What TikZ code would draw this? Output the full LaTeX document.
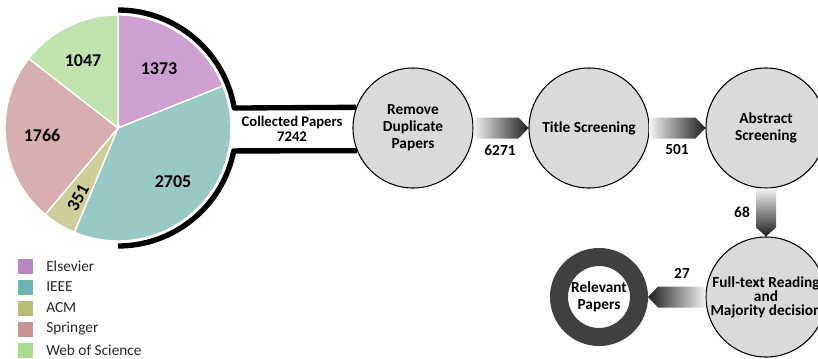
\documentclass[tikz,border=0pt]{standalone}
\usepackage{fontspec}
\setmainfont{Carlito}
\usetikzlibrary{calc}

\definecolor{elsPie}{HTML}{CDA0D1}
\definecolor{ieeePie}{HTML}{99C9C7}
\definecolor{acmPie}{HTML}{CECE9A}
\definecolor{sprPie}{HTML}{D8AEAE}
\definecolor{wosPie}{HTML}{C1E4AF}
\definecolor{elsKey}{HTML}{B985C3}
\definecolor{ieeeKey}{HTML}{6CB4B0}
\definecolor{acmKey}{HTML}{BDBC74}
\definecolor{sprKey}{HTML}{C99494}
\definecolor{wosKey}{HTML}{A8DC8C}
\definecolor{stageGray}{HTML}{DADADA}
\definecolor{ringGray}{HTML}{404040}
\definecolor{keyText}{HTML}{262626}

\tikzset{
  stage/.style={circle, draw=black, line width=0.8pt, fill=stageGray, minimum size=90pt,
    inner sep=0pt, align=center, font=\fontsize{11.5}{12.75}\selectfont\bfseries},
  count/.style={font=\fontsize{11.5}{13}\selectfont\bfseries},
  pienum/.style={font=\fontsize{13.5}{15}\selectfont\bfseries},
  slice/.style={draw=white, line width=1pt},
  keybox/.style={minimum size=11.25pt, inner sep=0pt},
  keytext/.style={anchor=west, inner sep=0pt, text=keyText, font=\fontsize{11.5}{13}\selectfont},
  flowright/.style={left color=black!5, right color=black!88},
  flowleft/.style={left color=black!88, right color=black!5},
  flowdown/.style={top color=black!5, bottom color=black!88}
}

\begin{document}
\begin{tikzpicture}[x=0.75pt,y=0.75pt]
\useasboundingbox (0,0) rectangle (818,-358);
\clip (0,0) rectangle (818,-358);

% pie of collected papers
\coordinate (pie) at (118,-128);
\filldraw[slice, fill=elsPie] (pie) -- ++(90:113) arc[start angle=90, end angle=21.8, radius=113] -- cycle;
\filldraw[slice, fill=ieeePie] (pie) -- ++(21.8:113) arc[start angle=21.8, end angle=-112.7, radius=113] -- cycle;
\filldraw[slice, fill=acmPie] (pie) -- ++(-112.7:113) arc[start angle=-112.7, end angle=-130.1, radius=113] -- cycle;
\filldraw[slice, fill=sprPie] (pie) -- ++(-130.1:113) arc[start angle=-130.1, end angle=-217.9, radius=113] -- cycle;
\filldraw[slice, fill=wosPie] (pie) -- ++(142.1:113) arc[start angle=142.1, end angle=90, radius=113] -- cycle;
\node[pienum] (nEls) at (159,-69) {1373};
\node[pienum] (nIeee) at (173,-182) {2705};
\node[pienum, rotate=62, inner sep=0pt] (nAcm) at (78,-198) {351};
\node[pienum] (nSpr) at (42,-135) {1766};
\node[pienum] (nWos) at (83,-61) {1047};

% stages
\node[stage] (rem) at (413,-128) {Remove\\Duplicate\\Papers};
\node[stage] (tit) at (589,-128) {Title Screening};
\node[stage] (abs) at (766,-128) {Abstract\\Screening};
\node[stage, font=\fontsize{11.5}{10.5}\selectfont\bfseries] (ful) at (766,-297) {Full-text Reading\\and\\Majority decision};
\node[circle, draw=ringGray, line width=13.5pt, fill=white, minimum size=60pt, inner sep=0pt,
  outer sep=6.75pt, align=center, font=\fontsize{11.5}{12.75}\selectfont\bfseries] (rel) at (599,-297) {Relevant\\Papers};

% bracket from pie to first stage
\draw[line width=4pt, line join=round] ($(pie)+(90:118)$) arc[start angle=90, end angle=9.75, radius=118] -- (rem.160.5);
\draw[line width=4pt, line join=round] ($(pie)+(-90:118)$) arc[start angle=-90, end angle=-11.2, radius=118] -- (rem.202.5);
\node[align=center, font=\fontsize{11}{11.25}\selectfont\bfseries] (col) at (292,-129) {Collected Papers\\7242};

% flow arrows
\shade[flowright] ($(rem.east)+(0,10.5)$) -- ($(tit.west)+(-10,10.5)$) -- (tit.west)
  -- ($(tit.west)+(-10,-10.5)$) -- ($(rem.east)+(0,-10.5)$) -- cycle;
\shade[flowright] ($(tit.east)+(0,10.5)$) -- ($(abs.west)+(-10,10.5)$) -- (abs.west)
  -- ($(abs.west)+(-10,-10.5)$) -- ($(tit.east)+(0,-10.5)$) -- cycle;
\shade[flowdown] ($(abs.south)+(-10,0)$) -- ($(ful.north)+(-10,9)$) -- (ful.north)
  -- ($(ful.north)+(10,9)$) -- ($(abs.south)+(10,0)$) -- cycle;
\shade[flowleft] ($(ful.west)+(0,10.5)$) -- ($(rel.east)+(10,10.5)$) -- (rel.east)
  -- ($(rel.east)+(10,-10.5)$) -- ($(ful.west)+(0,-10.5)$) -- cycle;
\node[count] (c6271) at (500,-150) {6271};
\node[count] (c501) at (677,-150) {501};
\node[count] (c68) at (742,-212) {68};
\node[count] (c27) at (682,-273) {27};

% legend
\node[keybox, fill=elsKey] (kEls) at (25.5,-266) {};
\node[keytext] (tEls) at (46,-266) {Elsevier};
\node[keybox, fill=ieeeKey] (kIeee) at (25.5,-287) {};
\node[keytext] (tIeee) at (46,-287) {IEEE};
\node[keybox, fill=acmKey] (kAcm) at (25.5,-308) {};
\node[keytext] (tAcm) at (46,-308) {ACM};
\node[keybox, fill=sprKey] (kSpr) at (25.5,-329) {};
\node[keytext] (tSpr) at (46,-329) {Springer};
\node[keybox, fill=wosKey] (kWos) at (25.5,-350) {};
\node[keytext] (tWos) at (46,-350) {Web of Science};
\end{tikzpicture}
\end{document}
